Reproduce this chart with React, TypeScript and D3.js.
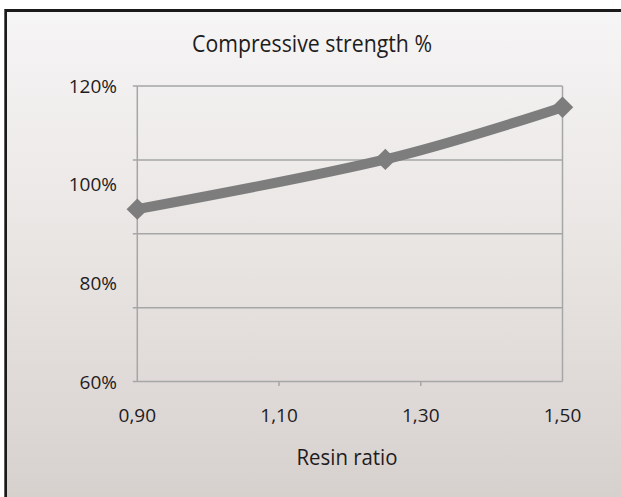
import React from "react";
import * as d3 from "d3";

const resinRatio = [0.9, 1.25, 1.5];
const strength = [95, 105.1, 115.7];
const xTicks = [0.9, 1.1, 1.3, 1.5];
const yLabels = [60, 80, 100, 120];
const yGrid = [60, 75, 90, 105, 120];

const W = 621;
const H = 497;

export default function App() {
  const x = d3.scaleLinear().domain([0.9, 1.5]).range([137.3, 562.5]);
  const y = d3.scaleLinear().domain([60, 120]).range([381.5, 86]);
  const pts: [number, number][] = resinRatio.map((r, i) => [x(r), y(strength[i])]);
  const line = d3.line().curve(d3.curveCardinal.tension(0))(pts) || "";
  const sq = d3.symbol().type(d3.symbolSquare).size(230)() || "";
  const font = "'Open Sans', sans-serif";
  const txt = "#1f1c1d";
  const grid = "#a6a6a6";
  return (
    <svg width={W} height={H} style={{ position: "absolute", left: 0, top: 0 }}>
      <defs>
        <linearGradient id="bg" x1="0" y1="0" x2="0" y2="1">
          <stop offset="0" stopColor="#f6f5f5" />
          <stop offset="0.5" stopColor="#e8e4e2" />
          <stop offset="1" stopColor="#d6d0cd" />
        </linearGradient>
      </defs>
      <rect x={0} y={0} width={W} height={H} fill="#ffffff" />
      <rect x={4.3} y={9} width={W} height={H} fill="#1a1a1a" />
      <rect x={7} y={12} width={W} height={H} fill="url(#bg)" />
      {yGrid.map((v) => (
        <line key={"g" + v} x1={x(0.9) - 4.5} x2={x(1.5)} y1={y(v)} y2={y(v)} stroke={grid} strokeWidth={1.5} />
      ))}
      <line x1={x(0.9)} x2={x(0.9)} y1={y(120)} y2={y(60)} stroke={grid} strokeWidth={1.5} />
      <line x1={x(1.5)} x2={x(1.5)} y1={y(120)} y2={y(60)} stroke={grid} strokeWidth={1.5} />
      {xTicks.slice(1, -1).map((t) => (
        <line key={"t" + t} x1={x(t)} x2={x(t)} y1={y(60)} y2={y(60) + 4.5} stroke={grid} strokeWidth={1.5} />
      ))}
      <path d={line} fill="none" stroke="#7d7d7d" strokeWidth={10} strokeLinejoin="round" />
      {pts.map(([px, py], i) => (
        <path key={"m" + i} d={sq} transform={`translate(${px},${py}) rotate(45)`} fill="#7d7d7d" />
      ))}
      <text x={312} y={51.7} textAnchor="middle" fontFamily={font} fontSize={23} textLength={240} lengthAdjust="spacingAndGlyphs" fill={txt}>
        Compressive strength %
      </text>
      {yLabels.map((v) => (
        <text key={"yl" + v} x={117} y={(v === 120 ? 86 : v === 60 ? 382.5 : y(v))} dy="0.36em" textAnchor="end" fontFamily={font} fontSize={19} fill={txt}>
          {v}%
        </text>
      ))}
      {xTicks.map((t) => (
        <text key={"xl" + t} x={x(t)} y={415} dy="0.36em" textAnchor="middle" fontFamily={font} fontSize={19} fill={txt}>
          {d3.format(".2f")(t).replace(".", ",")}
        </text>
      ))}
      <text x={347} y={465} textAnchor="middle" fontFamily={font} fontSize={21.5} textLength={101} lengthAdjust="spacingAndGlyphs" fill={txt}>
        Resin ratio
      </text>
    </svg>
  );
}
